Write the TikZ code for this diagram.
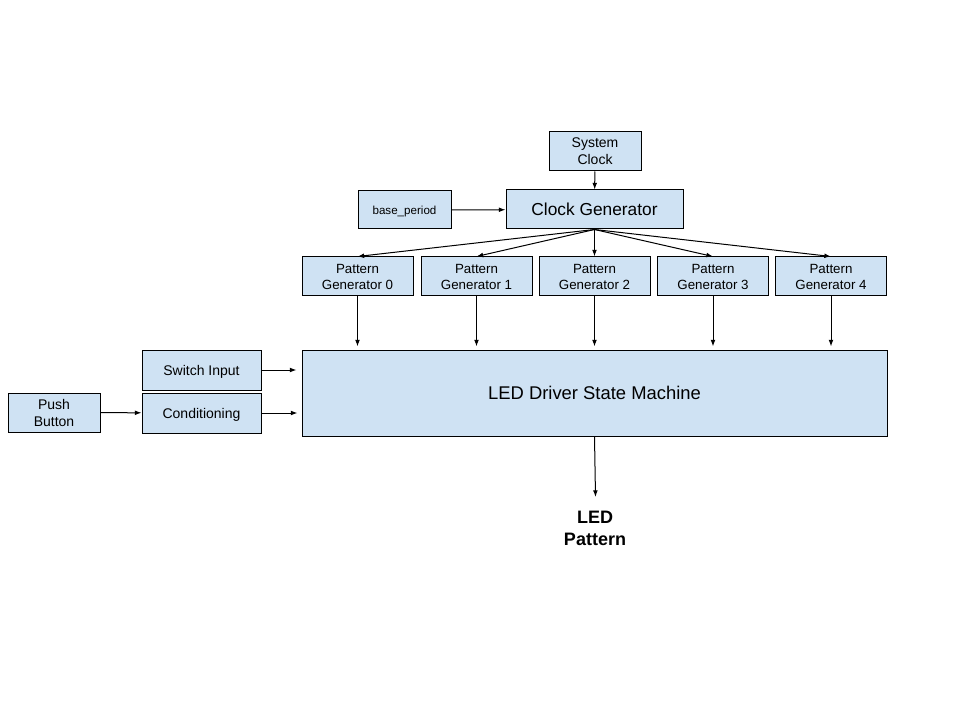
\documentclass[tikz,border=0pt]{standalone}
\usepackage{fontspec}
\setmainfont{Liberation Sans}
\usetikzlibrary{arrows.meta,calc}
\definecolor{boxfill}{HTML}{CFE2F3}
\tikzset{
  box/.style={draw=black, fill=boxfill, line width=0.75pt, inner sep=0pt, align=center, text depth=0pt, font=\fontsize{10.5}{12.75}\selectfont},
  arr/.style={-{Latex[length=5pt,width=3.6pt]}, line width=0.75pt},
}
\begin{document}
\begin{tikzpicture}[x=0.75pt,y=-0.75pt]
\useasboundingbox[fill=white] (0,0) rectangle (960,720);
\node[box, minimum width=69pt, minimum height=29.25pt] (sys) at (595,151.5) {System\\Clock};
\node[box, minimum width=69.75pt, minimum height=28.5pt, font=\fontsize{8.7}{10}\selectfont] (base) at (404.5,210) {base\_period};
\node[box, minimum width=132.75pt, minimum height=29.25pt, font=\fontsize{13}{15}\selectfont] (clk) at (594.5,209.5) {Clock Generator};
\foreach \i/\x in {0/357.5,1/476.5,2/594.5,3/713,4/831}{
  \node[box, minimum width=83.25pt, minimum height=29.25pt, font=\fontsize{10}{12}\selectfont] (pg\i) at (\x,276.5) {Pattern\\Generator \i};
}
\node[box, minimum width=438.75pt, minimum height=64.5pt, font=\fontsize{13.8}{16}\selectfont] (led) at (594.5,393) {LED Driver State Machine};
\node[box, minimum width=89.25pt, minimum height=30pt] (sw) at (201.5,370) {Switch Input};
\node[box, minimum width=89.25pt, minimum height=30pt] (cond) at (201.5,413) {Conditioning};
\node[box, minimum width=69pt, minimum height=29.25pt] (push) at (54,412.5) {Push\\Button};
\node[align=center, inner sep=0pt, font=\fontsize{13.5}{16.5}\selectfont\bfseries] (out) at (595,528) {LED\\Pattern};
\coordinate (outin) at (595.5,497);

\draw[arr] (sys) -- (clk);
\draw[arr] (base) -- (clk);
\foreach \i in {0,...,4}{
  \draw[arr] (clk.south) -- (pg\i.north);
  \draw[arr, shorten >=2.25pt] (pg\i.south) -- (pg\i.south |- led.north);
}
\draw[arr, shorten >=3.75pt] (sw.east) -- (sw.east -| led.west);
\draw[arr, shorten >=3pt] (cond.east) -- (cond.east -| led.west);
\draw[arr] (push) -- (cond);
\draw[arr] (led.south) -- (outin);
\end{tikzpicture}
\end{document}
